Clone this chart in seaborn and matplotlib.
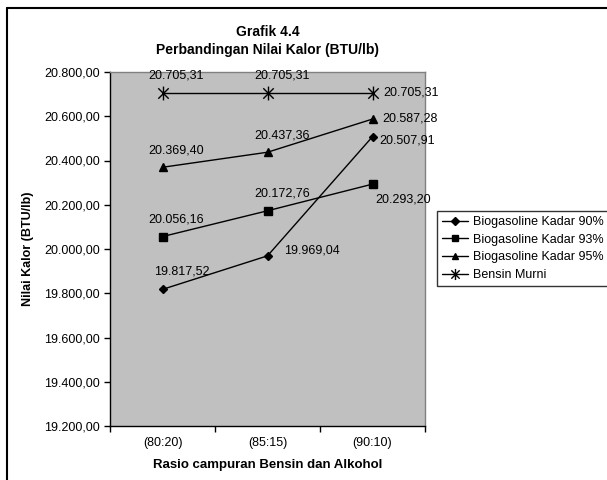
import matplotlib
matplotlib.use("Agg")
import matplotlib.pyplot as plt
from matplotlib.path import Path
from matplotlib.lines import Line2D
import pandas as pd
import seaborn as sns

# Data
categories = ["(80:20)", "(85:15)", "(90:10)"]
kadar_90 = [19817.52, 19969.04, 20507.91]
kadar_93 = [20056.16, 20172.76, 20293.20]
kadar_95 = [20369.40, 20437.36, 20587.28]
bensin_murni = [20705.31, 20705.31, 20705.31]
series_names = ["Biogasoline Kadar 90%", "Biogasoline Kadar 93%",
                "Biogasoline Kadar 95%", "Bensin Murni"]
y_ticks = [19200, 19400, 19600, 19800, 20000, 20200, 20400, 20600, 20800]

title_lines = ["Grafik 4.4", "Perbandingan Nilai Kalor (BTU/lb)"]
x_label = "Rasio campuran Bensin dan Alkohol"
y_label = "Nilai Kalor (BTU/lb)"


def fmt_id(v):
    s = f"{v:,.2f}"
    return s.replace(",", "#").replace(".", ",").replace("#", ".")


sns.set_theme(style="white")
plt.rcParams["font.family"] = ["Liberation Sans", "DejaVu Sans"]
plt.rcParams["text.color"] = "black"

W, H = 607, 480
fig = plt.figure(figsize=(W / 100, H / 100), dpi=100)
fig.patch.set_facecolor("white")

ax = fig.add_axes([110 / W, 1 - 426 / H, 315 / W, 354 / H])
ax.set_facecolor("#C0C0C0")

# asterisk marker: X plus a vertical stroke
star = Path([(0, -1), (0, 1), (-0.75, -0.75), (0.75, 0.75), (-0.75, 0.75), (0.75, -0.75)],
            [Path.MOVETO, Path.LINETO] * 3)

styles = [
    dict(marker="D", markersize=4.5, markerfacecolor="black"),
    dict(marker="s", markersize=5.5, markerfacecolor="black"),
    dict(marker="^", markersize=6, markerfacecolor="black"),
    dict(marker=star, markersize=10, markerfacecolor="none"),
]
all_values = [kadar_90, kadar_93, kadar_95, bensin_murni]

xs = list(range(len(categories)))
for name, vals, st in zip(series_names, all_values, styles):
    df = pd.DataFrame({"x": xs, "y": vals})
    sns.lineplot(data=df, x="x", y="y", ax=ax, color="black", linewidth=1,
                 markeredgecolor="black", markeredgewidth=1, legend=False, **st)

# data labels: (dx, dy, ha) in pixels for each point
label_pos = [
    [(19, 18, "center"), (17, 5, "left"), (7, -4, "left")],
    [(14, 17, "center"), (15, 17, "center"), (3, -15, "left")],
    [(14, 17, "center"), (15, 17, "center"), (10, 1, "left")],
    [(14, 17, "center"), (15, 17, "center"), (11, 0, "left")],
]
for vals, poss in zip(all_values, label_pos):
    for i, (v, (dx, dy, ha)) in enumerate(zip(vals, poss)):
        ax.annotate(fmt_id(v), (i, v), xytext=(dx, dy), textcoords="offset pixels",
                    ha=ha, va="center", fontsize=9, color="black")

ax.set_xlim(-0.5, len(categories) - 0.5)
ax.set_ylim(y_ticks[0], y_ticks[-1])
ax.set_yticks(y_ticks)
ax.set_yticklabels([fmt_id(t) for t in y_ticks])
ax.set_xticks([i - 0.5 for i in range(len(categories) + 1)])
ax.set_xticklabels([])
ax.set_xticks(xs, minor=True)
ax.set_xticklabels(categories, minor=True)
ax.tick_params(axis="x", which="major", direction="out", length=4, width=1, color="black", bottom=True)
ax.tick_params(axis="x", which="minor", length=0, pad=8, labelsize=9, labelcolor="black", bottom=True)
ax.tick_params(axis="y", which="major", direction="out", length=4, width=1, color="black",
               pad=3.5, labelsize=9, labelcolor="black", left=True)
ax.set_xlabel("")
ax.set_ylabel("")
ax.grid(False)

for side in ["left", "bottom"]:
    ax.spines[side].set_color("black")
    ax.spines[side].set_linewidth(1)
for side in ["top", "right"]:
    ax.spines[side].set_color("#808080")
    ax.spines[side].set_linewidth(1)

# titles and axis labels
cx = (110 + 425) / 2 / W
fig.text(cx, 1 - 32 / H, title_lines[0], ha="center", va="center", fontsize=10, fontweight="bold")
fig.text(cx, 1 - 50 / H, title_lines[1], ha="center", va="center", fontsize=10, fontweight="bold")
fig.text(cx, 1 - 465 / H, x_label, ha="center", va="center", fontsize=9.5, fontweight="bold")
fig.text(28 / W, 1 - 249 / H, y_label, ha="center", va="center", rotation=90,
         fontsize=9, fontweight="bold")

# legend
handles = []
for st in styles:
    handles.append(Line2D([], [], color="black", linewidth=1, markeredgecolor="black",
                          markeredgewidth=1, **{**st, "markersize": st["markersize"] * 0.8}))
leg = fig.legend(handles, series_names, loc="upper left",
                 bbox_to_anchor=(437 / W, 1 - 211 / H), bbox_transform=fig.transFigure,
                 fontsize=9, frameon=True, fancybox=False, shadow=False,
                 borderaxespad=0, borderpad=0.4, handlelength=2.1, handletextpad=0.4,
                 labelspacing=0.45)
leg.get_frame().set_edgecolor("black")
leg.get_frame().set_linewidth(1)
leg.get_frame().set_facecolor("white")

# outer chart frame (left and top edges)
fig.add_artist(Line2D([7 / W, 7 / W], [0, 1 - 8 / H], transform=fig.transFigure,
                      color="black", linewidth=1.5))
fig.add_artist(Line2D([7 / W, 1], [1 - 8 / H, 1 - 8 / H], transform=fig.transFigure,
                      color="black", linewidth=1.5))

fig.savefig("out.png", dpi=100)
